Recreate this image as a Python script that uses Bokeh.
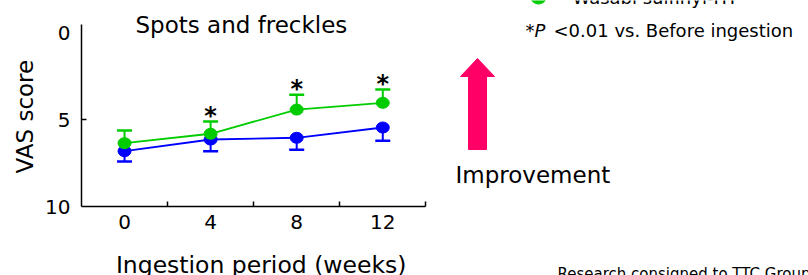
import math
from bokeh.plotting import figure
from bokeh.layouts import row, column
from bokeh.models import ColumnDataSource, Whisker, TeeHead, FixedTicker, Range1d
from bokeh.core.properties import value
from bokeh.embed import file_html
from bokeh.resources import INLINE

# ---- data ----
weeks = [0, 4, 8, 12]
tick_labels = ["0", "4", "8", "12"]
minor_weeks = [2, 6, 10, 14]
wasabi_mean = [6.36, 5.82, 4.43, 4.04]
wasabi_err = [0.73, 0.71, 0.85, 0.76]
placebo_mean = [6.82, 6.15, 6.05, 5.46]
placebo_err = [0.59, 0.67, 0.69, 0.76]
significant = [False, True, True, True]
y_ticks = [0, 5, 10]
y_tick_labels = ["0", "5", "10"]

GREEN = "#00CC00"
BLUE = "#0000FF"
PINK = "#FF0066"
FONT = "DejaVu Sans"
TEXT_K = 0.35  # svg text baseline compensation (fraction of font size)

# ---- layout (pixels, page coordinates) ----
W, H = 808, 275
LEFT_W = 41           # strip holding the y-axis title
PLOT_R = 441          # right edge of the chart block
AXIS_X, AXIS_Y = 81, 206
TITLE_H = 31          # strip holding the x-axis title
PX_WEEK = 21.52
PX_UNIT = 17.4
X0 = -2.0


def blank(x0, x1, y0, y1):
    f = figure(width=x1 - x0, height=y1 - y0, x_range=Range1d(x0, x1),
               y_range=Range1d(y1, y0), output_backend="svg", toolbar_location=None,
               x_axis_location=None, y_axis_location=None, min_border=0,
               outline_line_color=None)
    f.grid.visible = False
    return f


def put(f, X, Y, s, size, style="normal", angle=0.0):
    dy = -TEXT_K * size
    xo, yo = (dy, 0) if angle else (0, dy)
    f.text(x=[X], y=[Y], text=[s], text_font=value(FONT), text_font_size=value(f"{size}px"),
           text_font_style=style, text_color="black", text_align="left",
           text_baseline="alphabetic", angle=angle, x_offset=xo, y_offset=yo)


# ---- main chart ----
pw = PLOT_R - LEFT_W
ph = H - TITLE_H
frame_w = PLOT_R - AXIS_X
x_end = X0 + frame_w / PX_WEEK
y_top = 10 - AXIS_Y / PX_UNIT

p = figure(width=pw, height=ph, x_range=Range1d(X0, x_end), y_range=Range1d(10, y_top),
           output_backend="svg", toolbar_location=None,
           min_border_left=AXIS_X - LEFT_W, min_border_right=0, min_border_top=0,
           min_border_bottom=ph - AXIS_Y, outline_line_color=None)
p.grid.visible = False

xa = p.xaxis[0]
xa.ticker = FixedTicker(ticks=weeks, minor_ticks=minor_weeks)
xa.major_label_overrides = {w: l for w, l in zip(weeks, tick_labels)}
xa.bounds = (-2, 14)
ya = p.yaxis[0]
ya.ticker = FixedTicker(ticks=y_ticks, minor_ticks=[5])
ya.major_label_overrides = {t: l for t, l in zip(y_ticks, y_tick_labels)}
ya.bounds = (-0.45, 10)
for ax in (xa, ya):
    ax.major_tick_in = 0
    ax.major_tick_out = 0
    ax.minor_tick_in = 5
    ax.minor_tick_out = 0
    ax.minor_tick_line_color = "black"
    ax.minor_tick_line_width = 1.5
    ax.axis_line_color = "black"
    ax.axis_line_width = 1.5
    ax.major_label_text_font = FONT
    ax.major_label_text_font_size = "20px"
    ax.major_label_text_color = "black"
xa.major_label_standoff = 8
ya.major_label_standoff = 11

src_p = ColumnDataSource(dict(x=weeks, m=placebo_mean,
                              lo=[m + e for m, e in zip(placebo_mean, placebo_err)]))
src_w = ColumnDataSource(dict(x=weeks, m=wasabi_mean,
                              hi=[m - e for m, e in zip(wasabi_mean, wasabi_err)]))

p.add_layout(Whisker(source=src_p, base="x", lower="m", upper="lo",
                     line_color=BLUE, line_width=2, lower_head=None,
                     upper_head=TeeHead(size=15, line_color=BLUE, line_width=2.5)))
p.add_layout(Whisker(source=src_w, base="x", lower="m", upper="hi",
                     line_color=GREEN, line_width=2, lower_head=None,
                     upper_head=TeeHead(size=15, line_color=GREEN, line_width=2.5)))

p.line("x", "m", source=src_p, line_color=BLUE, line_width=1.8)
p.line("x", "m", source=src_w, line_color=GREEN, line_width=1.8)
p.ellipse("x", "m", source=src_p, width=13, height=11, width_units="screen",
          height_units="screen", fill_color=BLUE, line_color=BLUE)
p.ellipse("x", "m", source=src_w, width=13, height=11, width_units="screen",
          height_units="screen", fill_color=GREEN, line_color=GREEN)

sig_x = [w for w, s in zip(weeks, significant) if s]
sig_y = [m - e for m, e, s in zip(wasabi_mean, wasabi_err, significant) if s]
p.text(x=sig_x, y=sig_y, text=["*"] * len(sig_x), text_font=value(FONT),
       text_font_size=value("24px"), text_font_style="bold", text_color="black",
       text_align="center", text_baseline="alphabetic", y_offset=3 - TEXT_K * 24)

# chart title, in the chart's own frame
p.text(x=[X0 + (135 - AXIS_X) / PX_WEEK], y=[10 - (AXIS_Y - 33) / PX_UNIT],
       text=["Spots and freckles"], text_font=value(FONT), text_font_size=value("23px"),
       text_color="black", text_align="left", text_baseline="alphabetic",
       y_offset=-TEXT_K * 23)

# ---- y-axis title strip ----
pl = blank(0, LEFT_W, 0, H)
put(pl, 33, 173, "VAS score", 23, angle=math.pi / 2)

# ---- x-axis title strip ----
pb = blank(LEFT_W, PLOT_R, H - TITLE_H, H)
pb.text(x=[117], y=[273], text=["Ingestion period (weeks)"], text_font=value(FONT),
        text_font_size=value("23.5px"), text_color="black", text_align="left",
        text_baseline="alphabetic", x_offset=-34, y_offset=-TEXT_K * 23.5)

# ---- right-hand notes ----
pr = blank(PLOT_R, W, 0, H)
pr.ellipse(x=[538], y=[-3], width=15, height=13, fill_color=GREEN, line_color=GREEN)
put(pr, 572, 3, "Wasabi sulfinyl-ITI", 18)
put(pr, 525, 36, "*", 18)
put(pr, 534, 36, "P", 18, style="italic")
put(pr, 553, 36, "<0.01 vs. Before ingestion", 18)
arrow_x = [477, 494, 486, 486, 468, 468, 460]
arrow_y = [58, 76, 76, 149, 149, 76, 76]
pr.patch(arrow_x, arrow_y, fill_color=PINK, line_color=PINK)
put(pr, 455, 183, "Improvement", 23)
put(pr, 557, 279, "Research consigned to TTC Group", 15)

layout = row(pl, column(p, pb, spacing=0), pr, spacing=0)
open("out.html", "w").write(file_html(layout, INLINE))
